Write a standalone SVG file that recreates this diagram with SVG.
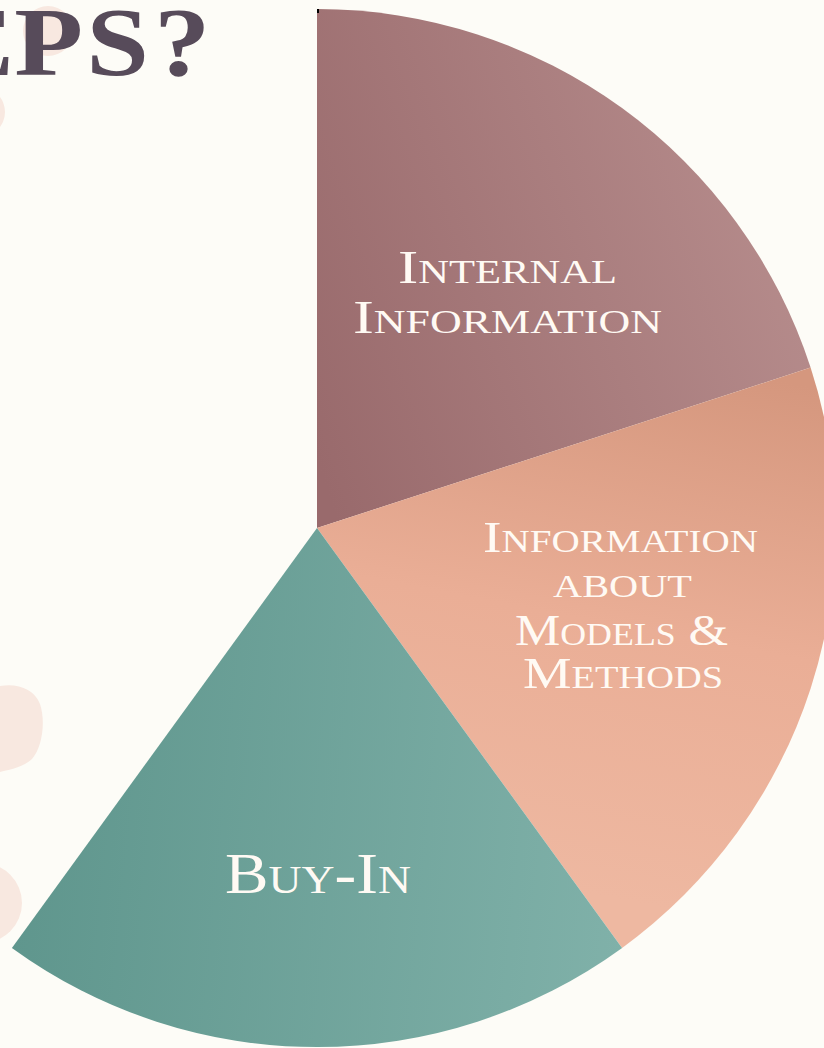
<svg xmlns="http://www.w3.org/2000/svg" width="824" height="1048" viewBox="0 0 824 1048">
  <style>
    .blob { fill: #f8e8e0; }
    .lbl { font-family: "Liberation Serif", "Times New Roman", serif; font-variant: small-caps; fill: #fffaf4; text-anchor: middle; }
    .title { font-family: "Liberation Serif", "Times New Roman", serif; font-weight: bold; fill: #574b5a; }
  </style>
  <defs>
    <linearGradient id="g1" gradientUnits="userSpaceOnUse" x1="317" y1="460" x2="810" y2="300">
      <stop offset="0" stop-color="#996a6c"/>
      <stop offset="1" stop-color="#b58b8b"/>
    </linearGradient>
    <linearGradient id="g2" gradientUnits="userSpaceOnUse" x1="720" y1="370" x2="620" y2="900">
      <stop offset="0" stop-color="#d5977e"/>
      <stop offset="0.5" stop-color="#eaae96"/>
      <stop offset="1" stop-color="#eeb8a1"/>
    </linearGradient>
    <linearGradient id="g3" gradientUnits="userSpaceOnUse" x1="12" y1="900" x2="622" y2="960">
      <stop offset="0" stop-color="#5f968d"/>
      <stop offset="1" stop-color="#80b1a9"/>
    </linearGradient>
  </defs>
  <rect x="0" y="0" width="824" height="1048" fill="#fdfcf7"/>
  <g id="decor">
    <circle class="blob" cx="48" cy="31" r="25"/>
    <circle class="blob" cx="-20" cy="112" r="25"/>
    <path class="blob" d="M0,686 C18,683 34,689 40,704 C46,722 42,748 32,759 C22,768 8,770 0,772 Z"/>
    <circle class="blob" cx="-18" cy="903" r="40"/>
    <text id="title" class="title" transform="scale(1.15,1)" x="-53 12.5 75 134" y="75" font-size="98">EPS?</text>
  </g>
  <g id="pie">
    <g id="internal-information">
      <path d="M317,528 L317,9 A519,519 0 0 1 810.6,367.6 Z" fill="url(#g1)"/>
      <rect x="317" y="9" width="2" height="4" fill="#000"/>
      <text class="lbl" x="507.5" y="283" font-size="47" textLength="219" lengthAdjust="spacingAndGlyphs">Internal</text>
      <text class="lbl" x="507.5" y="333" font-size="47" textLength="309" lengthAdjust="spacingAndGlyphs">Information</text>
    </g>
    <g id="models-methods">
      <path d="M317,528 L810.6,367.6 A519,519 0 0 1 622.1,947.9 Z" fill="url(#g2)"/>
      <text class="lbl" x="620.5" y="552" font-size="44" textLength="275" lengthAdjust="spacingAndGlyphs">Information</text>
      <text class="lbl" x="622.5" y="597" font-size="44" textLength="139" lengthAdjust="spacingAndGlyphs">about</text>
      <text class="lbl" x="621.5" y="645" font-size="44" textLength="213" lengthAdjust="spacingAndGlyphs">Models &amp;</text>
      <text class="lbl" x="623" y="688" font-size="44" textLength="200" lengthAdjust="spacingAndGlyphs">Methods</text>
    </g>
    <g id="buy-in">
      <path d="M317,528 L622.1,947.9 A519,519 0 0 1 11.9,947.9 Z" fill="url(#g3)"/>
      <text class="lbl" x="318" y="893" font-size="57" textLength="186" lengthAdjust="spacingAndGlyphs">Buy-In</text>
    </g>
  </g>
  <g id="connectors"/>
</svg>
